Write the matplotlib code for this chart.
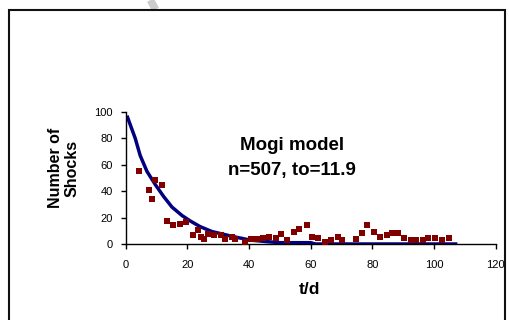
import matplotlib
matplotlib.use("Agg")
import matplotlib.pyplot as plt
from matplotlib.patches import Rectangle
from matplotlib.lines import Line2D

plt.rcParams['font.family'] = ['Liberation Sans', 'DejaVu Sans']

# Observed shock counts per time bin
obs_t = [4.3, 7.4, 8.5, 9.6, 11.8, 13.3, 15.4, 17.6, 19.7, 21.8, 23.3, 24.3, 25.4,
         26.6, 28.6, 30.8, 32.3, 34.5, 35.4, 38.7, 40.8, 42.5, 44.5, 46.5, 48.6,
         50.3, 52.4, 54.6, 56.3, 58.9, 60.4, 62.4, 64.5, 66.5, 68.8, 70.3, 74.6,
         76.6, 78.3, 80.5, 82.5, 84.7, 86.5, 88.3, 90.4, 92.4, 94.3, 96.3, 98.2,
         100.4, 102.5, 104.7]
obs_n = [55, 41, 34, 48.7, 45, 17.8, 14.2, 15.2, 16.7, 6.9, 10.7, 5.6, 3.5,
         7.6, 7.1, 7.1, 3.5, 5.6, 3.5, 1.8, 3.5, 3.5, 4.6, 5.6, 4.6,
         7.6, 3.0, 9.4, 11.7, 14.2, 5.6, 4.6, 1.5, 3.0, 5.6, 3.0, 4.0,
         8.1, 14.2, 9.1, 5.6, 6.6, 8.1, 8.1, 4.6, 3.0, 3.0, 3.0, 4.6,
         4.6, 3.0, 4.6]

# Mogi model curve
model_t = [0.6, 2.0, 3.1, 4.7, 6.9, 9.6, 12.3, 15.0, 18.3, 20.9, 24.1, 28.0,
           34.9, 40.3, 45.7, 50.0, 60.0, 61.5, 107.0]
model_n = [96, 87, 80, 67, 55, 45, 36, 28, 21.5, 17.5, 13.2, 9.4,
           5.6, 3.0, 1.8, 1.0, 1.0, 0.0, 0.0]

x_ticks = [0, 20, 40, 60, 80, 100, 120]
y_ticks = [0, 20, 40, 60, 80, 100]

W, H = 510, 320
fig = plt.figure(figsize=(W / 100, H / 100), dpi=100)
fig.patch.set_facecolor('white')

# outer frame (runs past the lower edge)
fig.patches.append(Rectangle((9.5 / W, -0.1), (505.5 - 9.5) / W, 1.1 - 10.5 / H,
                             transform=fig.transFigure, fill=False,
                             edgecolor='#111111', linewidth=1.5, zorder=1))
# faint grey stroke at the top edge
fig.lines.append(Line2D([150.5 / W, 155.5 / W], [1.0, 1 - 9.5 / H],
                        transform=fig.transFigure, color='#cccccc',
                        linewidth=5.5, solid_capstyle='butt', zorder=0))

ax = fig.add_axes([125.7 / W, 76 / H, 370 / W, 132 / H])
ax.set_facecolor('none')

ax.plot(model_t, model_n, color='#000080', linewidth=2.5, zorder=2,
        solid_joinstyle='round')
ax.plot(obs_t, obs_n, linestyle='none', marker='s', markersize=5,
        color='#800000', markeredgewidth=0, zorder=3)

ax.set_xlim(0, 120)
ax.set_ylim(0, 100)
ax.set_xticks(x_ticks)
ax.set_yticks(y_ticks)
ax.tick_params(axis='both', direction='out', length=3.5, width=1,
               labelsize=8, colors='black', pad=6)
ax.tick_params(axis='x', pad=8)
for side in ('top', 'right'):
    ax.spines[side].set_visible(False)
for side in ('left', 'bottom'):
    ax.spines[side].set_linewidth(1)
    ax.spines[side].set_color('black')

ax.text(0.45, 0.745, 'Mogi model', transform=ax.transAxes, ha='center',
        va='center', fontsize=13.5, fontweight='bold')
ax.text(0.45, 0.555, 'n=507, to=11.9', transform=ax.transAxes, ha='center',
        va='center', fontsize=13.5, fontweight='bold')

fig.text(309 / W, 1 - 290 / H, 't/d', ha='center', va='center',
         fontsize=12.5, fontweight='bold')
fig.text(64 / W, 1 - 168 / H, 'Number of\nShocks', ha='center', va='center',
         rotation=90, fontsize=11.5, fontweight='bold', linespacing=1.15)

fig.savefig('out.png', dpi=100)
